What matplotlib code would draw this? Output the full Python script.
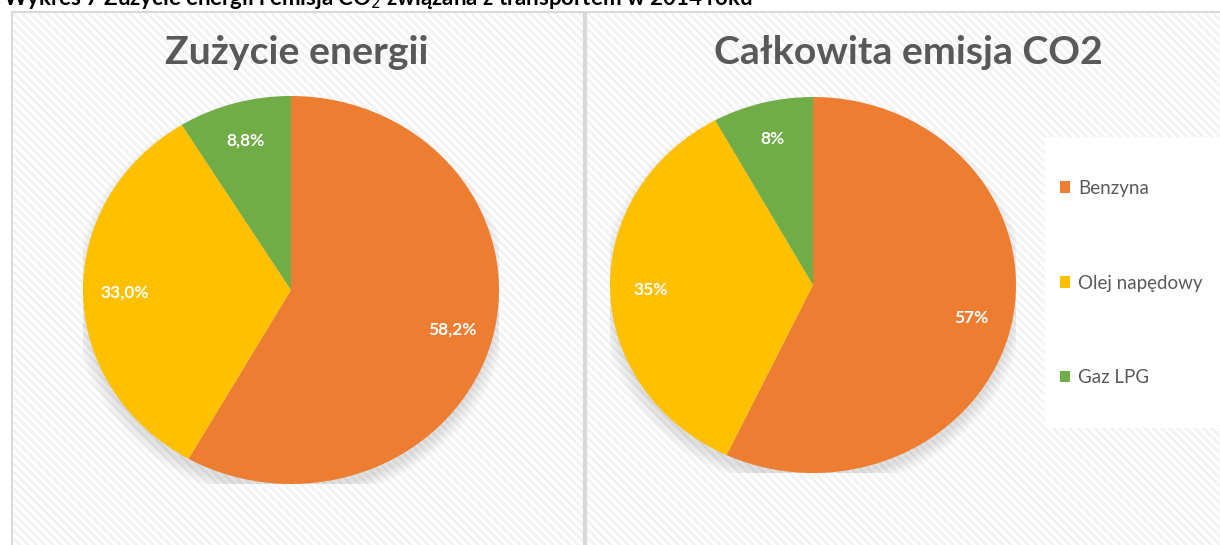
import matplotlib.pyplot as plt
import matplotlib.patches as mpatches
from matplotlib.patches import Ellipse

plt.rcParams['font.family'] = ['Lato', 'DejaVu Sans']
plt.rcParams['hatch.linewidth'] = 2.0

# Data
fuels = ['Benzyna', 'Olej napędowy', 'Gaz LPG']
energy_share = [58.2, 33.0, 8.8]
co2_share = [57, 35, 8]
fuel_colors = ['#ED7D31', '#FFC000', '#70AD47']

page_title = 'Wykres 7 Zużycie energii i emisja CO$_2$ związana z transportem w 2014 roku'
left_title = 'Zużycie energii'
right_title = 'Całkowita emisja CO2'

W, H = 1220, 545
fig = plt.figure(figsize=(W / 100, H / 100), dpi=100)


def fx(px):
    return px / W


def fy(py):
    return 1 - py / H


# chart panels with faint diagonal hatch
for x0, x1 in [(12, 584), (586, 1230)]:
    fig.patches.append(mpatches.Rectangle((fx(x0), 0), fx(x1 - x0), fy(12),
                                          transform=fig.transFigure, facecolor='white',
                                          edgecolor='#f3f3f3', hatch='\\\\\\\\',
                                          linewidth=0, zorder=-2))
    fig.patches.append(mpatches.Rectangle((fx(x0), -0.01), fx(x1 - x0), fy(12) + 0.01,
                                          transform=fig.transFigure, facecolor='none',
                                          edgecolor='#d9d9d9', linewidth=1.5, zorder=1))

fig.text(fx(3), fy(5), page_title, fontsize=16, fontweight='bold',
         color='black', ha='left', va='baseline')


def draw_pie(box, values, fmt, title, title_x):
    left, top, right, bottom = box
    ax = fig.add_axes([fx(left), fy(bottom), fx(right - left), (bottom - top) / H])
    # soft shadow, mostly below the pie
    for i in range(10):
        r = 0.99 + 0.007 * i
        ax.add_patch(Ellipse((0, -0.045), 2 * r, 2 * r, facecolor='black',
                             edgecolor='none', alpha=0.012, zorder=0))
    wedges, _, autotexts = ax.pie(values, colors=fuel_colors, startangle=90,
                                  counterclock=False, radius=1.0,
                                  autopct=lambda p: fmt(p), pctdistance=0.8,
                                  wedgeprops=dict(linewidth=0, zorder=2),
                                  textprops=dict(color='white', fontweight='bold',
                                                 fontsize=12.5))
    ax.set_aspect('auto')
    ax.set_xlim(-1, 1)
    ax.set_ylim(-1, 1)
    ax.axis('off')
    fig.text(fx(title_x), fy(52), title, fontsize=28.3, fontweight='bold',
             color='#595959', ha='center', va='center')
    return wedges


draw_pie((83, 96, 499, 484), energy_share,
         lambda p: f'{p:.1f}%'.replace('.', ','), left_title, 297)
wedges = draw_pie((610, 97, 1016, 473), co2_share,
                  lambda p: f'{p:.0f}%', right_title, 908)

# legend area
fig.patches.append(mpatches.Rectangle((fx(1045), fy(428)), fx(180), (428 - 137) / H,
                                      transform=fig.transFigure, facecolor='white',
                                      edgecolor='none', zorder=-1))
fig.legend(wedges, fuels, loc='center left', bbox_to_anchor=(fx(1060), fy(283)),
           frameon=False, fontsize=13.5, labelcolor='#595959', labelspacing=4.15,
           handlelength=0.55, handleheight=0.55, handletextpad=0.4, borderpad=0,
           borderaxespad=0)

plt.savefig('out.png', dpi=100)
